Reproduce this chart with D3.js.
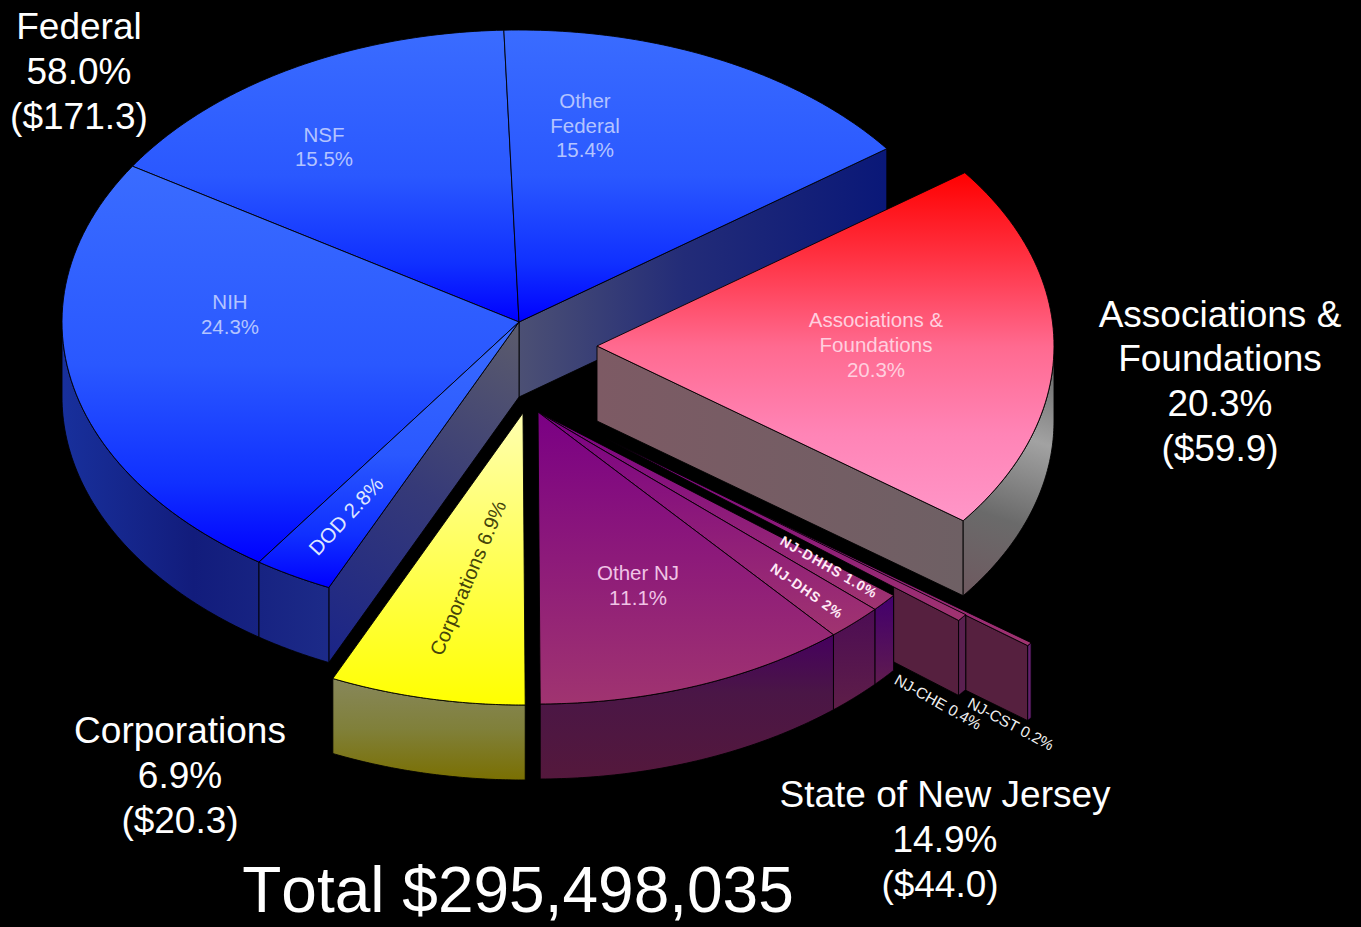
<!DOCTYPE html>
<html>
<head>
<meta charset="utf-8">
<script src="https://cdn.jsdelivr.net/npm/d3@7"></script>
<style>
  html, body { margin: 0; background: #000; }
  svg { display: block; }
  text { font-family: "Liberation Sans", Arial, sans-serif; text-anchor: middle; font-kerning: none; }
</style>
</head>
<body>
<div id="chart"></div>
<script>
// Research funding shares, percent of total, clockwise from the top of the pie.
const sliceNames = ["Other Federal", "Associations & Foundations", "NJ-CST", "NJ-CHE", "NJ-DHHS", "NJ-DHS", "Other NJ", "Corporations", "DOD", "NIH", "NSF"];
const sliceValues = [15.4, 20.3, 0.2, 0.4, 1.0, 2, 11.1, 6.9, 2.8, 24.3, 15.5];
const sliceGroups = ["federal", "foundations", "state", "state", "state", "state", "state", "corporate", "federal", "federal", "federal"];

const groupCaptions = [
  ["Federal", "58.0%", "($171.3)"],
  ["Associations &", "Foundations", "20.3%", "($59.9)"],
  ["Corporations", "6.9%", "($20.3)"],
  ["State of New Jersey", "14.9%", "($44.0)"]
];
const totalCaption = "Total $295,498,035";

const W = 1361, H = 927;
const cx = 519, cy = 322, rx = 457, ry = 292, depth = 75;
const firstAngle = -1.9 * Math.PI / 180;

const sx = d3.scaleLinear().domain([-1, 1]).range([cx - rx, cx + rx]);
const sy = d3.scaleLinear().domain([-1, 1]).range([cy + ry, cy - ry]);

// Pulled-out slices are shifted as a rigid piece, in pixels.
const offsets = {
  "federal": [0, 0], "foundations": [78, 24], "corporate": [4, 91], "state": [19, 90],
  "NJ-CHE": [84, 115], "NJ-CST": [146, 146]
};

const topFills = {
  "federal": [[0, "#3a6cff"], [0.5, "#2a58ff"], [0.8, "#1030ff"], [1, "#0000ff"]],
  "foundations": [[0, "#ff0000"], [0.25, "#ff3344"], [0.5, "#ff6a90"], [0.75, "#ff84b6"], [1, "#ff96c8"]],
  "corporate": [[0, "#ffffb0"], [1, "#ffff00"]],
  "state": [[0, "#7a0084"], [1, "#a03470"]]
};

const svg = d3.select("#chart").append("svg").attr("width", W).attr("height", H).style("background", "#000");
const defs = svg.append("defs");

function gradient(id, x1, y1, x2, y2, stops, user) {
  const g = defs.append("linearGradient").attr("id", id)
    .attr("x1", x1).attr("y1", y1).attr("x2", x2).attr("y2", y2);
  if (user) g.attr("gradientUnits", "userSpaceOnUse");
  stops.forEach(([o, c]) => g.append("stop").attr("offset", o).attr("stop-color", c));
  return `url(#${id})`;
}

Object.entries(topFills).forEach(([k, stops]) => gradient("top-" + k, 0, 0, 0, 1, stops));

const fedEndWall = gradient("w-fedend", 519, 0, 883, 0, [[0, "#4c5074"], [0.45, "#232c78"], [1, "#0a1878"]], true);
const fedStartWall = gradient("w-fedstart", 519, 322, 325, 660, [[0, "#5c5c6c"], [0.5, "#363a78"], [1, "#1a2488"]], true);
const fedOuter = gradient("w-fedouter", 62, 0, 325, 0, [[0, "#18309c"], [0.5, "#121c7c"], [1, "#1c2a88"]], true);
const assocEnd = gradient("w-assocend", 597, 0, 965, 0, [[0, "#7d5a64"], [1, "#6e6064"]], true);
const assocOuter = gradient("w-assocouter", 965, 590, 1050, 340, [[0, "#6e5a60"], [0.3, "#6a6a6a"], [0.62, "#a2a2a2"], [1, "#5a5a5a"]], true);
const corpOuter = gradient("w-corp", 0, 680, 0, 778, [[0, "#87875a"], [0.5, "#80803a"], [1, "#7a7004"]], true);
const njOuter = gradient("w-nj", 0, 636, 0, 778, [[0, "#46005e"], [0.4, "#4a1646"], [1, "#54183c"]], true);
const njSide = gradient("w-njside", 0, 595, 0, 710, [[0, "#4a0a56"], [1, "#5e1e48"]], true);
const dhhsOuter = gradient("w-dhhs", 0, 600, 0, 680, [[0, "#44006c"], [1, "#5e1a50"]], true);

const pie = d3.pie().value((_, i) => sliceValues[i]).sort(null)
  .startAngle(firstAngle).endAngle(firstAngle + 2 * Math.PI);
const arcs = pie(sliceNames).map((a, i) => ({
  name: sliceNames[i], group: sliceGroups[i], start: a.startAngle, end: a.endAngle,
  off: offsets[sliceNames[i]] || offsets[sliceGroups[i]]
}));
const byName = n => arcs.find(a => a.name === n);

const pt = (a, angle, drop = 0) => [sx(Math.sin(angle)) + a.off[0], sy(Math.cos(angle)) + a.off[1] + drop];
const tip = (a, drop = 0) => [cx + a.off[0], cy + a.off[1] + drop];
const rimAngles = (a0, a1) => d3.range(0, 61).map(i => a0 + (a1 - a0) * i / 60);
const path = d3.line();

// Flat face of a slice
function drawTop(a) {
  svg.append("path")
    .attr("d", path([tip(a), ...rimAngles(a.start, a.end).map(t => pt(a, t))]) + "Z")
    .attr("fill", `url(#top-${a.group})`)
    .attr("stroke", "#000").attr("stroke-width", 0.9).attr("stroke-linejoin", "round");
}
// Cut face running from the slice apex to its rim; fromX hides the part tucked behind a neighbour
function drawRadial(a, angle, fill, fromX) {
  let head = tip(a), foot = pt(a, angle);
  if (fromX !== undefined) {
    const k = (fromX - head[0]) / (foot[0] - head[0]);
    head = [fromX, head[1] + (foot[1] - head[1]) * k];
  }
  svg.append("path")
    .attr("d", path([head, foot, [foot[0], foot[1] + depth], [head[0], head[1] + depth]]) + "Z")
    .attr("fill", fill).attr("stroke", "#000").attr("stroke-width", 0.9);
}
// Curved rim wall
function drawRim(a, a0, a1, fill) {
  const ts = rimAngles(a0, a1);
  svg.append("path")
    .attr("d", path([...ts.map(t => pt(a, t)), ...ts.slice().reverse().map(t => pt(a, t, depth))]) + "Z")
    .attr("fill", fill).attr("stroke", "#000").attr("stroke-width", 0.9);
}

// Federal block
const ofed = byName("Other Federal"), dod = byName("DOD"), nih = byName("NIH"), nsf = byName("NSF");
drawRadial(ofed, ofed.end, fedEndWall);
drawRadial(dod, dod.start, fedStartWall);
drawRim(nih, nih.start, 1.5 * Math.PI, fedOuter);
drawRim(dod, dod.start, dod.end, fedOuter);
[nsf, ofed, nih, dod].forEach(drawTop);

// Associations & Foundations
const assoc = byName("Associations & Foundations");
drawRadial(assoc, assoc.end, assocEnd);
drawRim(assoc, Math.PI / 2, assoc.end, assocOuter);
drawTop(assoc);

// Corporations
const corp = byName("Corporations");
drawRim(corp, corp.start, corp.end, corpOuter);
drawTop(corp);

// State of New Jersey, furthest pulled-out sliver first
const cst = byName("NJ-CST"), che = byName("NJ-CHE"), dhhs = byName("NJ-DHHS"), dhs = byName("NJ-DHS"), onj = byName("Other NJ");
drawRadial(cst, cst.end, "#56203f", pt(che, che.start)[0]);
drawRim(cst, cst.start, cst.end, "#64206e");
drawTop(cst);
drawRadial(che, che.end, "#56203f", pt(dhhs, dhhs.start)[0]);
drawRim(che, che.start, che.end, "#5a2050");
drawTop(che);
drawRim(dhhs, dhhs.start, dhhs.end, dhhsOuter);
drawTop(dhhs);
drawRim(dhs, dhs.start, dhs.end, njSide);
drawTop(dhs);
drawRim(onj, onj.start, onj.end, njOuter);
drawTop(onj);

// Captions on the slices
function lines(x, baselines, strs, size, fill) {
  strs.forEach((s, i) => svg.append("text").attr("x", x).attr("y", baselines[i])
    .attr("font-size", size).attr("fill", fill).text(s));
}
const pctOf = n => sliceValues[sliceNames.indexOf(n)];
const pct = n => pctOf(n).toFixed(1) + "%";
lines(324, [142, 166], ["NSF", pct("NSF")], 20.5, "#b4c4ff");
lines(585, [108, 133, 157], ["Other", "Federal", pct("Other Federal")], 20.5, "#b4c4ff");
lines(230, [309, 334], ["NIH", pct("NIH")], 20.5, "#b4c4ff");
lines(876, [327, 352, 377], ["Associations &", "Foundations", pct("Associations & Foundations")], 20.5, "#ffcfdf");
lines(638, [580, 605], ["Other NJ", pct("Other NJ")], 20.5, "#f0c4e6");

function tilted(x, y, deg, str, size, fill, weight, spacing) {
  svg.append("text").attr("transform", `translate(${x},${y}) rotate(${deg})`)
    .attr("dy", "0.35em").attr("font-size", size).attr("fill", fill)
    .attr("font-weight", weight || "normal").attr("letter-spacing", spacing || 0).text(str);
}
tilted(346, 516, -47, "DOD " + pct("DOD"), 20.5, "#dfe6ff");
tilted(468, 578, -67, "Corporations " + pct("Corporations"), 20, "#44440a");
tilted(829, 567, 30, "NJ-DHHS " + pct("NJ-DHHS"), 14, "#ffeaf6", "bold", 1);
tilted(807, 591, 35, "NJ-DHS " + pctOf("NJ-DHS") + "%", 14, "#ffeaf6", "bold", 1);
tilted(938, 702, 29, "NJ-CHE " + pct("NJ-CHE"), 15.5, "#f0f0f0");
tilted(1011, 724, 28, "NJ-CST " + pct("NJ-CST"), 15.5, "#f0f0f0");

// Group captions around the pie
lines(79, [39, 84, 129], groupCaptions[0], 37, "#fff");
lines(1220, [327, 371, 416, 461], groupCaptions[1], 37, "#fff");
lines(180, [743, 788, 833], groupCaptions[2], 37, "#fff");
lines(945, [807, 852], groupCaptions[3].slice(0, 2), 37, "#fff");
lines(940, [897], groupCaptions[3].slice(2), 37, "#fff");
lines(518, [912], [totalCaption], 64, "#fff");
</script>
</body>
</html>
